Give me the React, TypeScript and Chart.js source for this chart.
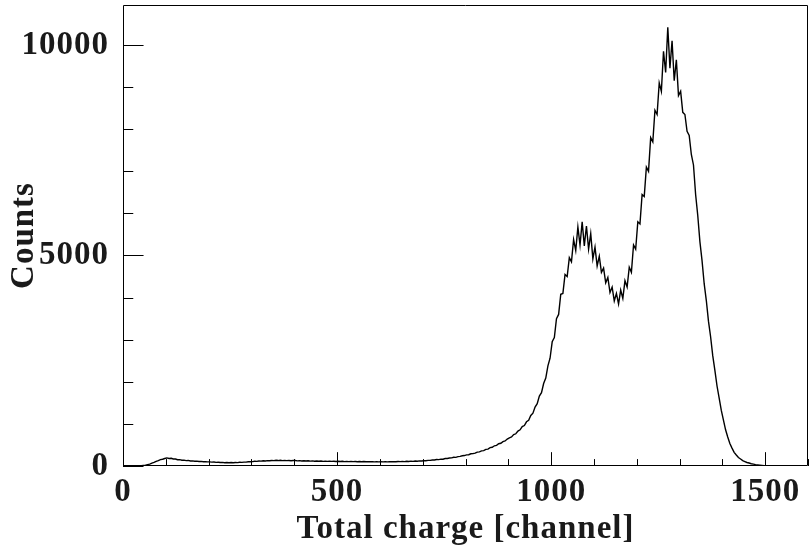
import React, { useEffect, useRef } from "react";
import { Chart, registerables } from "chart.js";

Chart.register(...registerables);

const BIN_WIDTH = 5;
const X_MIN = 0;
const X_MAX = 1600;
const Y_MIN = 0;
const Y_MAX = 10950;
const X_TICK_LABELS = [0, 500, 1000, 1500];
const Y_TICK_LABELS = [0, 5000, 10000];
const X_MAJOR = 500;
const X_MINOR = 100;
const Y_MAJOR = 5000;
const Y_MINOR = 1000;
const X_TITLE = "Total charge [channel]";
const Y_TITLE = "Counts";

// counts per channel, 5-channel bins, rows of 100 channels
const counts000 = [0, 0, 0, 0, 0, 1, 2, 4, 6, 13, 19, 34, 46, 70, 86, 112, 126, 150, 160, 178];
const counts100 = [192, 180, 183, 166, 165, 150, 152, 138, 139, 128, 132, 120, 122, 112, 116, 106, 109, 100, 104, 97];
const counts200 = [99, 91, 95, 87, 90, 83, 87, 79, 84, 77, 82, 78, 84, 80, 88, 85, 93, 92, 102, 100];
const counts300 = [103, 112, 109, 118, 115, 124, 120, 128, 124, 132, 127, 135, 129, 136, 128, 134, 127, 132, 125, 129];
const counts400 = [129, 122, 127, 120, 125, 118, 123, 116, 121, 114, 119, 113, 118, 111, 116, 110, 115, 109, 114, 108];
const counts500 = [113, 107, 111, 105, 110, 104, 109, 103, 108, 102, 107, 101, 106, 101, 105, 100, 104, 99, 103, 99];
const counts600 = [102, 98, 103, 99, 104, 100, 105, 101, 107, 103, 109, 104, 111, 107, 115, 111, 118, 114, 122, 118];
const counts700 = [126, 125, 134, 133, 142, 143, 153, 152, 164, 162, 177, 179, 190, 194, 207, 205, 224, 228, 243, 248];
const counts800 = [265, 268, 290, 293, 305, 330, 335, 360, 365, 395, 402, 435, 445, 480, 490, 528, 540, 580, 595, 640];
const counts900 = [670, 690, 745, 765, 830, 860, 935, 960, 1050, 1085, 1200, 1255, 1400, 1480, 1660, 1740, 1960, 2090, 2380, 2560];
const counts1000 = [2950, 3050, 3500, 3600, 4080, 4100, 4550, 4500, 4950, 4850, 5380, 5120, 5680, 5250, 5800, 5230, 5700, 5150, 5520, 4920];
const counts1100 = [5200, 4750, 4980, 4600, 4700, 4350, 4480, 4120, 4250, 3920, 4100, 3850, 4180, 3980, 4400, 4250, 4720, 4600, 5250, 5150];
const counts1200 = [5800, 5750, 6450, 6400, 7100, 7000, 7800, 7700, 8450, 8350, 9100, 8900, 9850, 9350, 10420, 9450, 10100, 9150, 9650, 8800];
const counts1300 = [8900, 8400, 8350, 7950, 7850, 7400, 7150, 6450, 5950, 5330, 4880, 4330, 3930, 3440, 3070, 2620, 2270, 1900, 1610, 1320];
const counts1400 = [1090, 860, 690, 535, 425, 325, 262, 203, 167, 128, 106, 84, 71, 54, 43, 32, 25, 18, 12, 7];
const counts1500 = [4, 2, 1, 0, 0, 0, 0, 0, 0, 0, 0, 0, 0, 0, 0, 0, 0, 0, 0, 0];

const counts = [
  ...counts000, ...counts100, ...counts200, ...counts300,
  ...counts400, ...counts500, ...counts600, ...counts700,
  ...counts800, ...counts900, ...counts1000, ...counts1100,
  ...counts1200, ...counts1300, ...counts1400, ...counts1500,
];

const FONT = "'Liberation Serif', 'DejaVu Serif', serif";

const letterSpacing = {
  id: "letterSpacing",
  beforeInit(chart: any) {
    chart.ctx.letterSpacing = "1px";
  },
  beforeDraw(chart: any) {
    chart.ctx.letterSpacing = "1px";
  },
};

const frameTicks = {
  id: "frameTicks",
  afterDatasetsDraw(chart: any) {
    const { ctx, chartArea, scales } = chart;
    const { left, right, top, bottom } = chartArea;
    const xs = scales.x;
    const ys = scales.y;
    const w = right - left;
    const h = bottom - top;
    ctx.save();
    ctx.strokeStyle = "#000";
    ctx.lineWidth = 1;
    ctx.beginPath();
    ctx.rect(Math.round(left) + 0.5, Math.round(top) + 0.5, Math.round(w) - 1, Math.round(h) - 1);
    ctx.stroke();
    ctx.beginPath();
    for (let v = X_MIN; v <= X_MAX; v += X_MINOR) {
      const px = Math.round(xs.getPixelForValue(v)) + 0.5;
      const len = v % X_MAJOR === 0 ? h * 0.03 : h * 0.015;
      ctx.moveTo(px, bottom);
      ctx.lineTo(px, bottom - len);
    }
    for (let v = Y_MIN; v <= Y_MAX; v += Y_MINOR) {
      const py = Math.round(ys.getPixelForValue(v)) + 0.5;
      const len = v % Y_MAJOR === 0 ? w * 0.03 : w * 0.015;
      ctx.moveTo(left, py);
      ctx.lineTo(left + len, py);
    }
    ctx.stroke();
    ctx.restore();
  },
};

function noPad(scale: any) {
  scale.paddingTop = 0;
  scale.paddingBottom = 0;
  scale.paddingLeft = 0;
  scale.paddingRight = 0;
}

export default function App() {
  const ref = useRef<HTMLCanvasElement>(null);
  useEffect(() => {
    if (!ref.current) return;
    const pts = counts.map((v, i) => ({ x: X_MIN + (i + 0.5) * BIN_WIDTH, y: v }));
    const chart = new Chart(ref.current, {
      type: "line",
      data: {
        datasets: [
          {
            data: pts,
            borderColor: "#000",
            borderWidth: 1.4,
            pointRadius: 0,
            tension: 0,
            fill: false,
          },
        ],
      },
      options: {
        animation: false,
        responsive: false,
        events: [],
        layout: { padding: { top: 5, right: 3, left: 0, bottom: 0 } },
        plugins: { legend: { display: false }, tooltip: { enabled: false } },
        scales: {
          x: {
            type: "linear",
            min: X_MIN,
            max: X_MAX,
            grid: { display: false },
            border: { display: false },
            afterBuildTicks(scale: any) {
              scale.ticks = X_TICK_LABELS.map((v) => ({ value: v }));
            },
            ticks: {
              maxRotation: 0,
              autoSkip: false,
              padding: 2,
              color: "#1a1a1a",
              font: { family: FONT, size: 33, weight: "bold", lineHeight: 1 },
              callback: (v: any) => String(v),
            },
            title: {
              display: true,
              text: X_TITLE,
              color: "#1a1a1a",
              padding: { top: 0, bottom: 3 },
              font: { family: FONT, size: 33, weight: "bold", lineHeight: 1.1 },
            },
            afterFit(scale: any) {
              scale.height = 85;
              noPad(scale);
            },
          },
          y: {
            type: "linear",
            min: Y_MIN,
            max: Y_MAX,
            grid: { display: false },
            border: { display: false },
            afterBuildTicks(scale: any) {
              scale.ticks = Y_TICK_LABELS.map((v) => ({ value: v }));
            },
            ticks: {
              autoSkip: false,
              padding: 6,
              color: "#1a1a1a",
              font: { family: FONT, size: 33, weight: "bold", lineHeight: 1 },
              callback: (v: any) => String(v),
            },
            title: {
              display: true,
              text: Y_TITLE,
              color: "#1a1a1a",
              padding: { top: 8, bottom: 0 },
              font: { family: FONT, size: 33, weight: "bold", lineHeight: 1 },
            },
            afterFit(scale: any) {
              scale.width = 123;
              noPad(scale);
            },
          },
        },
      },
      plugins: [letterSpacing, frameTicks],
    });
    return () => chart.destroy();
  }, []);
  return (
    <div style={{ position: "fixed", left: 0, top: 0, width: 811, height: 551, background: "#fff" }}>
      <canvas ref={ref} width={811} height={551} />
    </div>
  );
}
